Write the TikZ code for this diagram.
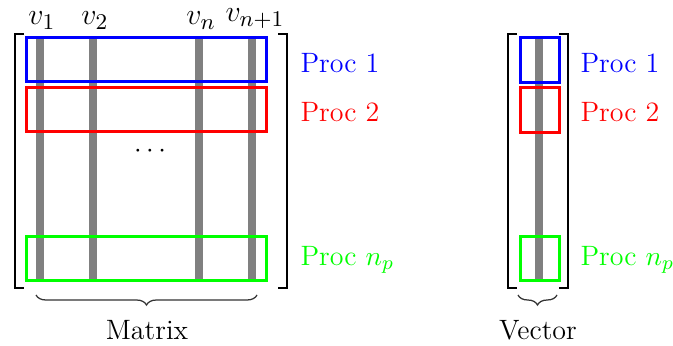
\documentclass[tikz,border=0pt]{standalone}
\usetikzlibrary{decorations.pathreplacing}
\begin{document}
\begin{tikzpicture}[x=0.4pt,y=-0.4pt,
  every node/.style={font=\fontsize{11.2}{13.4}\selectfont},
  colbar/.style={draw=gray,line width=3.2pt},
  bracketline/.style={draw=black,line width=1pt},
  procbox/.style={draw=#1,line width=1.2pt,rectangle,inner sep=0pt,outer sep=0pt},
  mbox/.style={procbox=#1,minimum width=95.6pt,minimum height=17.6pt},
  vbox/.style={procbox=#1,minimum width=15.6pt,minimum height=17.8pt},
  proclabel/.style={anchor=west,text=#1,inner sep=0pt},
  collabel/.style={inner sep=0pt,anchor=base,font=\fontsize{12.2}{14.6}\selectfont},
  underbrace/.style={decorate,decoration={brace,mirror,amplitude=4pt},draw=black!80,line width=0.5pt},
  caption/.style={inner sep=0pt}]
\useasboundingbox (0,0) rectangle (673,346);

% matrix columns
\foreach \x/\n in {40/c1,93/c2,199/cn,252/cm}{
  \coordinate (\n top) at (\x,38);
  \coordinate (\n bot) at (\x,280);
  \draw[colbar] (\n top) -- (\n bot);
}
\node[collabel] (v1) at (42,25) {$v_1$};
\node[collabel] (v2) at (95,25) {$v_2$};
\node[collabel] (vn) at (201,25) {$v_n$};
\node[collabel] (vm) at (255,22) {$v_{n+1}$};
\node (dots) at (150,151) {$\cdots$};

% matrix row blocks
\node[mbox=blue]  (mb1) at (146.5,60)  {};
\node[mbox=red]   (mb2) at (146.5,110) {};
\node[mbox=green] (mb3) at (146.5,258.5) {};

% matrix brackets
\draw[bracketline] (24,34) -- (15,34) -- (15,288) -- (24,288);
\draw[bracketline] (278,34) -- (287,34) -- (287,288) -- (278,288);

% vector column
\coordinate (vtop) at (538.5,38);
\coordinate (vbot) at (538.5,280);
\draw[colbar] (vtop) -- (vbot);
\node[vbox=blue]  (vb1) at (539.5,60)  {};
\node[vbox=red]   (vb2) at (539.5,110) {};
\node[vbox=green] (vb3) at (539.5,258.5) {};
\draw[bracketline] (517,34) -- (508,34) -- (508,288) -- (517,288);
\draw[bracketline] (559,34) -- (568,34) -- (568,288) -- (559,288);

% process labels
\node[proclabel=blue]  (lm1) at (300,63)  {Proc 1};
\node[proclabel=red]   (lm2) at (300,112) {Proc 2};
\node[proclabel=green] (lm3) at (300,260) {Proc $n_p$};
\node[proclabel=blue]  (lv1) at (580,63)  {Proc 1};
\node[proclabel=red]   (lv2) at (580,112) {Proc 2};
\node[proclabel=green] (lv3) at (580,260) {Proc $n_p$};

% braces and captions
\coordinate (mbl) at (36,295);
\coordinate (mbr) at (257,295);
\draw[underbrace] (mbl) -- (mbr);
\node[caption] (mcap) at (147,330) {Matrix};
\coordinate (vbl) at (518,295);
\coordinate (vbr) at (557,295);
\draw[underbrace] (vbl) -- (vbr);
\node[caption] (vcap) at (538,330) {Vector};
\end{tikzpicture}
\end{document}
